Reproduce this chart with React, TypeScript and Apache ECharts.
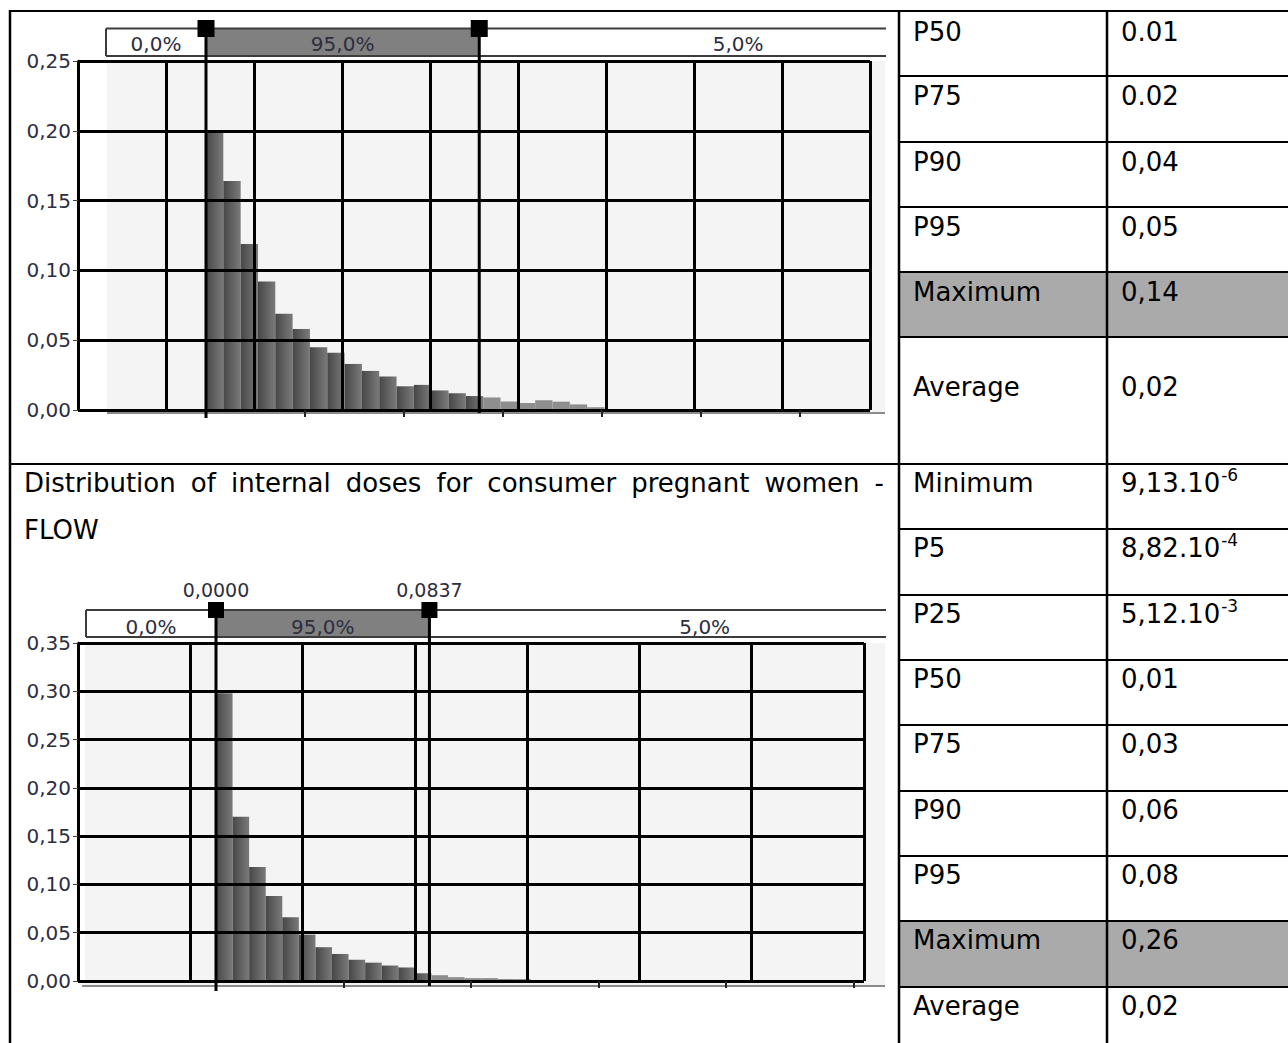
import React, { useEffect, useRef } from 'react';
import * as echarts from 'echarts';

const FONT = 'DejaVu Sans';

// ---- Top histogram (cut-off chart of the previous distribution) ----
const topBinWidth = 0.0035;
const topHeights = [0.199, 0.164, 0.119, 0.092, 0.069, 0.058, 0.045, 0.041, 0.033, 0.028, 0.024, 0.017, 0.018, 0.014, 0.012, 0.010, 0.009, 0.006, 0.005, 0.007, 0.006, 0.004, 0.002];
const topMarkers = [0, 0.0552];
const topYMax = 0.25;
const topTickMax = 0.12;
const topTickStep = 0.02;

// ---- Bottom histogram: FLOW ----
const bottomBinWidth = 0.0065;
const bottomHeights = [0.298, 0.170, 0.118, 0.088, 0.066, 0.048, 0.035, 0.028, 0.022, 0.019, 0.016, 0.014, 0.008, 0.006, 0.004, 0.003, 0.003, 0.002, 0.002];
const bottomMarkers = [0, 0.0837];
const bottomMarkerLabels = ['0,0000', '0,0837'];
const bottomYMax = 0.35;
const bottomTickMax = 0.25;
const bottomTickStep = 0.05;

const percentLabels = ['0,0%', '95,0%', '5,0%'];

// ---- Statistics tables ----
const topStatLabels = ['P50', 'P75', 'P90', 'P95', 'Maximum', 'Average'];
const topStatValues = ['0.01', '0.02', '0,04', '0,05', '0,14', '0,02'];
const bottomStatLabels = ['Minimum', 'P5', 'P25', 'P50', 'P75', 'P90', 'P95', 'Maximum', 'Average'];
const bottomStatValues = ['9,13.10^-6', '8,82.10^-4', '5,12.10^-3', '0,01', '0,03', '0,06', '0,08', '0,26', '0,02'];
const captionLine1 = 'Distribution of internal doses for consumer pregnant women -';
const captionLine2 = 'FLOW';

// layout
const topRowEdges = [12, 76, 142, 207, 272, 337, 464];
const topTextY = [32, 96, 162, 227, 292, 387];
const bottomRowEdges = [464, 529, 595, 660, 725, 791, 856, 921, 987];

export default function App() {
  const ref = useRef<HTMLDivElement>(null);
  useEffect(() => {
    const chart = echarts.init(ref.current!, null, { renderer: 'svg', width: 1288, height: 1043 });
    const fmt = (v: number) => v.toFixed(2).replace('.', ',');

    const frameX = (gridIndex: number, count: number) => ({
      gridIndex, type: 'value', min: 0, max: count, interval: 1, position: 'top',
      axisLine: { show: false }, axisTick: { show: false }, axisLabel: { show: false },
      splitLine: { show: true, lineStyle: { color: '#000', width: 3 } }, z: 3,
    });
    const tickX = (gridIndex: number, max: number, interval: number) => ({
      gridIndex, type: 'value', min: 0, max, interval, position: 'bottom', offset: 3,
      axisLine: { show: false },
      axisTick: { show: true, length: 7, lineStyle: { color: '#222', width: 2 } },
      axisLabel: { show: false }, splitLine: { show: false }, z: 3,
    });
    const frameY = (gridIndex: number, max: number) => ({
      gridIndex, type: 'value', min: 0, max, interval: 0.05,
      axisLine: { show: true, lineStyle: { color: '#000', width: 2.5 } },
      axisTick: { show: true, length: 5, lineStyle: { color: '#444', width: 1 } },
      axisLabel: { show: true, formatter: fmt, fontFamily: FONT, fontSize: 20, color: '#2e2e3e', margin: 7, padding: [6, 0, 0, 0] },
      splitLine: { show: true, lineStyle: { color: '#000', width: 3 } }, z: 3,
    });
    const dataY = (gridIndex: number, max: number) => ({ gridIndex, type: 'value', min: 0, max, show: false });

    const hist = (xi: number, yi: number, bw: number, heights: number[], cut: number) => ({
      type: 'custom', xAxisIndex: xi, yAxisIndex: yi, z: 2, silent: true, clip: false,
      data: heights.map((h, i) => [i * bw, (i + 1) * bw, h]),
      encode: { x: [0, 1], y: 2 },
      renderItem: (_p: any, api: any) => {
        const x0 = api.value(0), x1 = api.value(1), h = api.value(2);
        const a = api.coord([x0, h]);
        const b = api.coord([x1, 0]);
        const tail = x0 >= cut;
        return {
          type: 'rect',
          shape: { x: a[0], y: a[1], width: b[0] - a[0], height: b[1] - a[1] },
          style: {
            fill: tail ? '#8e8e8e' : new echarts.graphic.LinearGradient(0, 0, 1, 0, [
              { offset: 0, color: '#474747' }, { offset: 1, color: '#7a7a7a' },
            ]),
          },
        };
      },
    });

    chart.setOption({
      animation: false,
      textStyle: { fontFamily: FONT },
      grid: [
        { left: 78, top: 61, width: 792, height: 349 },
        { left: 206, top: 61, width: 594, height: 349 },
        { left: 78, top: 643, width: 786, height: 338 },
        { left: 216, top: 643, width: 637.5, height: 338 },
      ],
      xAxis: [
        frameX(0, 9),
        tickX(1, topTickMax, topTickStep),
        frameX(2, 7),
        tickX(3, bottomTickMax, bottomTickStep),
      ],
      yAxis: [frameY(0, topYMax), dataY(1, topYMax), frameY(2, bottomYMax), dataY(3, bottomYMax)],
      series: [
        hist(1, 1, topBinWidth, topHeights, topMarkers[1]),
        hist(3, 3, bottomBinWidth, bottomHeights, bottomMarkers[1]),
      ],
    });

    const px = (axis: number, v: number) => chart.convertToPixel({ xAxisIndex: axis }, v) as number;
    const tLow = px(1, topMarkers[0]), tHigh = px(1, topMarkers[1]);
    const bLow = px(3, bottomMarkers[0]), bHigh = px(3, bottomMarkers[1]);

    const G: any[] = [];
    const line = (x1: number, y1: number, x2: number, y2: number, stroke = '#000', w = 2, z = 10) =>
      G.push({ type: 'line', shape: { x1, y1, x2, y2 }, style: { stroke, lineWidth: w }, z, silent: true });
    const rect = (x: number, y: number, w: number, h: number, fill: string, z = 0) =>
      G.push({ type: 'rect', shape: { x, y, width: w, height: h }, style: { fill }, z, silent: true });
    const text = (x: number, y: number, t: string, size: number, align = 'left', fill = '#000') =>
      G.push({
        type: 'text', x, y, z: 10, silent: true,
        style: { text: t, font: `${size}px "${FONT}"`, fill, align, textAlign: align, verticalAlign: 'middle', textVerticalAlign: 'middle' },
      });

    const ctx = document.createElement('canvas').getContext('2d')!;
    const measure = (t: string, size: number) => { ctx.font = `${size}px "${FONT}"`; return ctx.measureText(t).width; };

    // ---- chart backgrounds ----
    rect(107, 61, 778, 352, '#f4f4f4', 0);
    line(107, 413, 885, 413, '#8a8a8a', 2, 1);
    rect(85, 643, 800, 343, '#f4f4f4', 0);
    line(82, 986, 885, 986, '#8a8a8a', 2, 1);

    // ---- percentile bars ----
    const pbar = (left: number, top: number, bottom: number, low: number, high: number, virtualRight: number, labelY: number) => {
      rect(left, top, 886 - left, bottom - top, '#ffffff', 5);
      rect(low, top, high - low, bottom - top, '#808080', 6);
      line(left, top, 886, top, '#3c3c3c', 2, 7);
      line(left, bottom, 886, bottom, '#3c3c3c', 2, 7);
      line(left, top, left, bottom, '#3c3c3c', 2, 7);
      text((left + low) / 2, labelY, percentLabels[0], 20, 'center', '#2e2e3e');
      text((low + high) / 2, labelY, percentLabels[1], 20, 'center', '#2e2e3e');
      text((high + virtualRight) / 2, labelY, percentLabels[2], 20, 'center', '#2e2e3e');
    };
    pbar(106, 28.5, 56, tLow, tHigh, 997, 44);
    pbar(86, 610, 637, bLow, bHigh, 980, 627);

    // ---- markers ----
    const marker = (x: number, yTop: number, yBottom: number, size: number) => {
      line(x, yTop, x, yBottom, '#000', 3, 11);
      rect(x - size / 2, yTop - size / 2, size, size, '#000', 12);
    };
    marker(tLow, 28.5, 418, 17);
    marker(tHigh, 28.5, 413, 17);
    marker(bLow, 610, 991, 16);
    marker(bHigh, 610, 986, 16);
    text(bLow, 590, bottomMarkerLabels[0], 19, 'center', '#2e2e3e');
    text(bHigh, 590, bottomMarkerLabels[1], 19, 'center', '#2e2e3e');

    // ---- table structure ----
    rect(899, topRowEdges[4], 389, topRowEdges[5] - topRowEdges[4], '#aaaaaa', 1);
    rect(899, bottomRowEdges[7], 389, bottomRowEdges[8] - bottomRowEdges[7], '#aaaaaa', 1);
    line(10, 11, 1288, 11, '#000', 2, 20);
    line(10, 10, 10, 1043, '#000', 2.5, 20);
    line(899, 11, 899, 1043, '#000', 2.5, 20);
    line(1107, 11, 1107, 1043, '#000', 2.5, 20);
    line(10, 464, 1288, 464, '#000', 2, 20);
    topRowEdges.slice(1, -1).forEach((y) => line(899, y, 1288, y, '#000', 2, 20));
    bottomRowEdges.slice(1).forEach((y) => line(899, y, 1288, y, '#000', 2, 20));

    // ---- table texts ----
    const valueText = (y: number, v: string) => {
      const [base, sup] = v.split('^');
      text(1121, y, base, 26);
      if (sup) text(1121 + measure(base, 26) + 1, y - 8, sup, 17);
    };
    topStatLabels.forEach((l, i) => {
      text(913, topTextY[i], l, 26);
      valueText(topTextY[i], topStatValues[i]);
    });
    bottomStatLabels.forEach((l, i) => {
      const y = bottomRowEdges[i] + 19;
      text(913, y, l, 26);
      valueText(y, bottomStatValues[i]);
    });

    // ---- caption (justified) ----
    const words = captionLine1.split(' ');
    const widths = words.map((w) => measure(w, 26));
    const total = widths.reduce((a, b) => a + b, 0);
    const gap = (884 - 24 - total) / (words.length - 1);
    let cx = 24;
    words.forEach((w, i) => { text(cx, 483, w, 26); cx += widths[i] + gap; });
    text(24, 530, captionLine2, 26);

    chart.setOption({ graphic: { elements: G } });

    return () => chart.dispose();
  }, []);

  return <div ref={ref} style={{ position: 'absolute', left: 0, top: 0, width: 1288, height: 1043, background: '#fff' }} />;
}
